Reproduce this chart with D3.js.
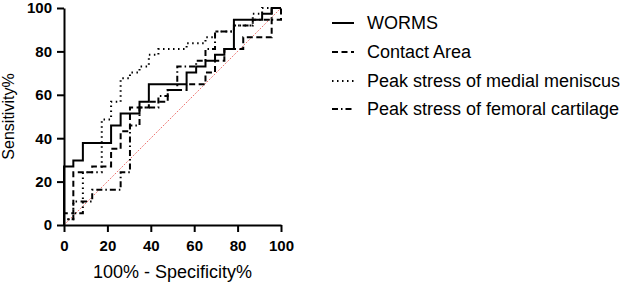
<!DOCTYPE html>
<html>
<head>
<meta charset="utf-8">
<script src="https://cdn.jsdelivr.net/npm/d3@7/dist/d3.min.js"></script>
<style>
  body { margin: 0; background: #fff; }
  svg { display: block; font-family: "Liberation Sans", Arial, sans-serif; }
</style>
</head>
<body>
<div id="chart"></div>
<script>
// ROC curves: [100% - specificity, sensitivity]
const worms = [[0,0],[0,27],[4.3,27],[4.3,29.7],[8.7,29.7],[8.7,37.8],[21.7,37.8],[21.7,45.9],[26.1,45.9],[26.1,51.4],[34.8,51.4],[34.8,56.8],[39.1,56.8],[39.1,64.9],[56.5,64.9],[56.5,70.3],[60.9,70.3],[60.9,73],[65.2,73],[65.2,75.7],[69.6,75.7],[69.6,78.4],[73.9,78.4],[73.9,81.1],[78.3,81.1],[78.3,94.6],[91.3,94.6],[91.3,97.3],[95.7,97.3],[95.7,100],[100,100]];
const contactArea = [[0,0],[0,5.4],[4.3,5.4],[4.3,24.3],[13,24.3],[13,27],[21.7,27],[21.7,35.1],[26.1,35.1],[26.1,43.2],[30.4,43.2],[30.4,54.1],[39.1,54.1],[39.1,56.8],[47.8,56.8],[47.8,62.2],[56.5,62.2],[56.5,64.9],[65.2,64.9],[65.2,70.3],[69.6,70.3],[69.6,75.7],[73.9,75.7],[73.9,81.1],[82.6,81.1],[82.6,86.5],[95.7,86.5],[95.7,94.6],[100,94.6],[100,100]];
const medialMeniscus = [[0,0],[0,2.7],[4.3,2.7],[4.3,10.8],[8.7,10.8],[8.7,24.3],[17.4,24.3],[17.4,48.6],[21.7,48.6],[21.7,56.8],[26.1,56.8],[26.1,67.6],[30.4,67.6],[30.4,70.3],[34.8,70.3],[34.8,73],[39.1,73],[39.1,78.4],[43.5,78.4],[43.5,81.1],[56.5,81.1],[56.5,83.8],[65.2,83.8],[65.2,86.5],[69.6,86.5],[69.6,89.2],[78.3,89.2],[78.3,91.9],[87,91.9],[87,97.3],[91.3,97.3],[91.3,100],[100,100]];
const femoralCartilage = [[0,0],[0,2.7],[4.3,2.7],[4.3,5.4],[8.7,5.4],[8.7,10.8],[13,10.8],[13,16.2],[26.1,16.2],[26.1,24.3],[30.4,24.3],[30.4,45.9],[34.8,45.9],[34.8,54.1],[43.5,54.1],[43.5,59.5],[47.8,59.5],[47.8,62.2],[52.2,62.2],[52.2,73],[60.9,73],[60.9,75.7],[65.2,75.7],[65.2,81.1],[69.6,81.1],[69.6,89.2],[78.3,89.2],[78.3,91.9],[87,91.9],[87,94.6],[95.7,94.6],[95.7,100],[100,100]];

const seriesNames = ["WORMS", "Contact Area", "Peak stress of medial meniscus", "Peak stress of femoral cartilage"];
const seriesData = [worms, contactArea, medialMeniscus, femoralCartilage];
const xTicks = [0, 20, 40, 60, 80, 100];
const yTicks = [0, 20, 40, 60, 80, 100];

// dash style per series
const dashes = [null, "6,3.5", "1.5,3.5", "6,3,1.5,3"];

const width = 625, height = 285;
const svg = d3.select("#chart").append("svg")
    .attr("width", width)
    .attr("height", height);

const x = d3.scaleLinear().domain([0, 100]).range([64, 281]);
const y = d3.scaleLinear().domain([0, 100]).range([225, 8]);

// reference diagonal
svg.append("line")
    .attr("x1", x(0)).attr("y1", y(0))
    .attr("x2", x(100)).attr("y2", y(100))
    .attr("stroke", "#e8403a")
    .attr("stroke-width", 1)
    .attr("stroke-dasharray", "1,1.5");

const line = d3.line().x(d => x(d[0])).y(d => y(d[1]));

seriesData.forEach(function (data, i) {
    svg.append("path")
        .datum(data)
        .attr("d", line)
        .attr("fill", "none")
        .attr("stroke", "#000")
        .attr("stroke-width", 2)
        .attr("stroke-dasharray", dashes[i]);
});

// axes
const xAxis = svg.append("g")
    .attr("transform", "translate(0," + y(0) + ")")
    .call(d3.axisBottom(x).tickValues(xTicks).tickSize(7).tickSizeOuter(0).tickPadding(8));
const yAxis = svg.append("g")
    .attr("transform", "translate(" + x(0) + ",0)")
    .call(d3.axisLeft(y).tickValues(yTicks).tickSize(7).tickSizeOuter(0).tickPadding(5));

[xAxis, yAxis].forEach(function (g) {
    g.select(".domain").attr("stroke", "#000").attr("stroke-width", 2);
    g.selectAll(".tick line").attr("stroke", "#000").attr("stroke-width", 2);
    g.selectAll(".tick text")
        .attr("fill", "#000")
        .style("font-size", "15px")
        .style("font-weight", "bold")
        .style("font-family", "'Liberation Sans', Arial, sans-serif");
});

// axis titles
svg.append("text")
    .attr("x", (x(0) + x(100)) / 2)
    .attr("y", 278)
    .attr("text-anchor", "middle")
    .style("font-size", "18px")
    .text("100% - Specificity%");

svg.append("text")
    .attr("transform", "translate(14," + (y(50)) + ") rotate(-90)")
    .attr("text-anchor", "middle")
    .style("font-size", "16px")
    .text("Sensitivity%");

// legend
const legendY = [23, 52, 81, 109];
const legend = svg.append("g");
seriesNames.forEach(function (name, i) {
    legend.append("line")
        .attr("x1", 332).attr("x2", 354)
        .attr("y1", legendY[i]).attr("y2", legendY[i])
        .attr("stroke", "#000")
        .attr("stroke-width", 2)
        .attr("stroke-dasharray", dashes[i]);
    legend.append("text")
        .attr("x", 367)
        .attr("y", legendY[i])
        .attr("dy", "0.35em")
        .style("font-size", "18px")
        .text(name);
});
</script>
</body>
</html>
